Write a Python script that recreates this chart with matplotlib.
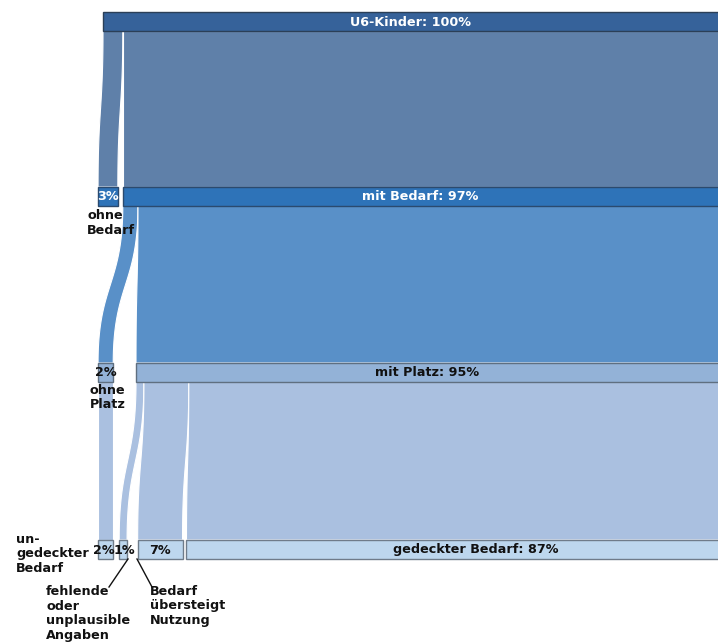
import numpy as np
import matplotlib
matplotlib.use("Agg")
import matplotlib.pyplot as plt
from matplotlib.patches import Rectangle, Polygon

# ---------------- data ----------------
level_names = [
    ["U6-Kinder"],
    ["ohne\nBedarf", "mit Bedarf"],
    ["ohne\nPlatz", "mit Platz"],
    ["un-\ngedeckter\nBedarf", "fehlende\noder\nunplausible\nAngaben",
     "Bedarf\nübersteigt\nNutzung", "gedeckter Bedarf"],
]
level_values = [
    [100.0],
    [3.0, 97.0],
    [2.3, 94.7],
    [2.3, 1.2, 6.8, 86.7],
]
# flows: (level, source index, target index in next level, value)
flow_src = [(0, 0), (0, 0), (1, 1), (1, 1), (2, 0), (2, 1), (2, 1), (2, 1)]
flow_tgt = [0, 1, 0, 1, 0, 1, 2, 3]
flow_val = [3.0, 97.0, 2.3, 94.7, 2.3, 1.2, 6.8, 86.7]

# ---------------- layout / style ----------------
W, H = 718, 642
PX_PER = 6.6          # pixels per percent
X0_PX = 103           # pixel position of 0 %
level_start = [0.0, -0.75, -0.75, -0.75]
level_gaps = [[], [0.75], [3.45], [0.9, 1.6, 0.6]]
level_top = [12, 187, 363, 540]
bar_h = 19
bar_colors = ["#36629a", "#2e73b8", "#93b2d7", "#bdd7ee"]
bar_edges = ["#2b3f57", "#2b4a6e", "#5f6f80", "#6f7c8a"]
flow_colors = ["#5f80a9", "#5990c8", "#aac0e0"]
text_colors = ["white", "white", "#111111", "#111111"]
label_dx = {(3, 3): 3.6, (3, 0): -0.35, (3, 1): 0.2}
ext_pos = {(1, 0): (87, 209), (2, 0): (90, 384), (3, 0): (16, 533),
           (3, 1): (46, 585), (3, 2): (150, 585)}
leaders = {(3, 1): ((128, 559), (109, 587)), (3, 2): ((137, 559), (152, 587))}

plt.rcParams['font.family'] = ['DejaVu Sans']
FS = 9.2

fig = plt.figure(figsize=(W / 100, H / 100), dpi=100)
ax = fig.add_axes([0, 0, 1, 1])
xmin = (0 - X0_PX) / PX_PER
xmax = (W - X0_PX) / PX_PER
ax.set_xlim(xmin, xmax)
ax.set_ylim(H, 0)
ax.axis("off")

def px2x(p):
    return (p - X0_PX) / PX_PER

# node positions
node_x = []
for li, vals in enumerate(level_values):
    xs = []
    x = level_start[li]
    for ni, v in enumerate(vals):
        if ni > 0:
            x += level_gaps[li][ni - 1]
        xs.append((x, x + v))
        x += v
    node_x.append(xs)

# flows
src_offset = {}
def bez(xa, xb, ya, yb, n=60):
    t = np.linspace(0, 1, n)
    ym = (ya + yb) / 2
    x = (1 - t) ** 3 * xa + 3 * (1 - t) ** 2 * t * xa + 3 * (1 - t) * t ** 2 * xb + t ** 3 * xb
    y = (1 - t) ** 3 * ya + 3 * (1 - t) ** 2 * t * ym + 3 * (1 - t) * t ** 2 * ym + t ** 3 * yb
    return x, y

for (li, si), ti, v in zip(flow_src, flow_tgt, flow_val):
    s0 = node_x[li][si][0] + src_offset.get((li, si), 0.0)
    src_offset[(li, si)] = src_offset.get((li, si), 0.0) + v
    t0 = node_x[li + 1][ti][0]
    ya = level_top[li] + bar_h
    yb = level_top[li + 1]
    lx, ly = bez(s0, t0, ya, yb)
    rx, ry = bez(s0 + v, t0 + v, ya, yb)
    pts = np.vstack([np.column_stack([lx, ly]), np.column_stack([rx[::-1], ry[::-1]])])
    ax.add_patch(Polygon(pts, closed=True, facecolor=flow_colors[li],
                         edgecolor="white", linewidth=0.8, zorder=1))

# bars and labels
for li, vals in enumerate(level_values):
    for ni, v in enumerate(vals):
        x0, x1 = node_x[li][ni]
        y0 = level_top[li]
        ax.add_patch(Rectangle((x0, y0), x1 - x0, bar_h, facecolor=bar_colors[li],
                               edgecolor=bar_edges[li], linewidth=1.0, zorder=2))
        name = level_names[li][ni]
        pct = f"{round(v)}%"
        if (li, ni) in ext_pos:
            txt = pct
            cx = (x0 + x1) / 2 + label_dx.get((li, ni), 0.0)
        else:
            txt = f"{name}: {pct}"
            cx = (x0 + min(x1, xmax)) / 2 + label_dx.get((li, ni), 0.0)
        ax.text(cx, y0 + bar_h / 2 + 0.5, txt, ha="center", va="center",
                color=text_colors[li], fontsize=FS, fontweight="bold", zorder=3)
        if (li, ni) in ext_pos:
            px, py = ext_pos[(li, ni)]
            ax.text(px2x(px), py, name, ha="left", va="top", color="#111111",
                    fontsize=FS, fontweight="bold", linespacing=1.15, zorder=3)
        if (li, ni) in leaders:
            (ax_, ay_), (bx_, by_) = leaders[(li, ni)]
            ax.plot([px2x(ax_), px2x(bx_)], [ay_, by_], color="#111111",
                    linewidth=1.0, zorder=3)

fig.savefig("out.png", dpi=100)
